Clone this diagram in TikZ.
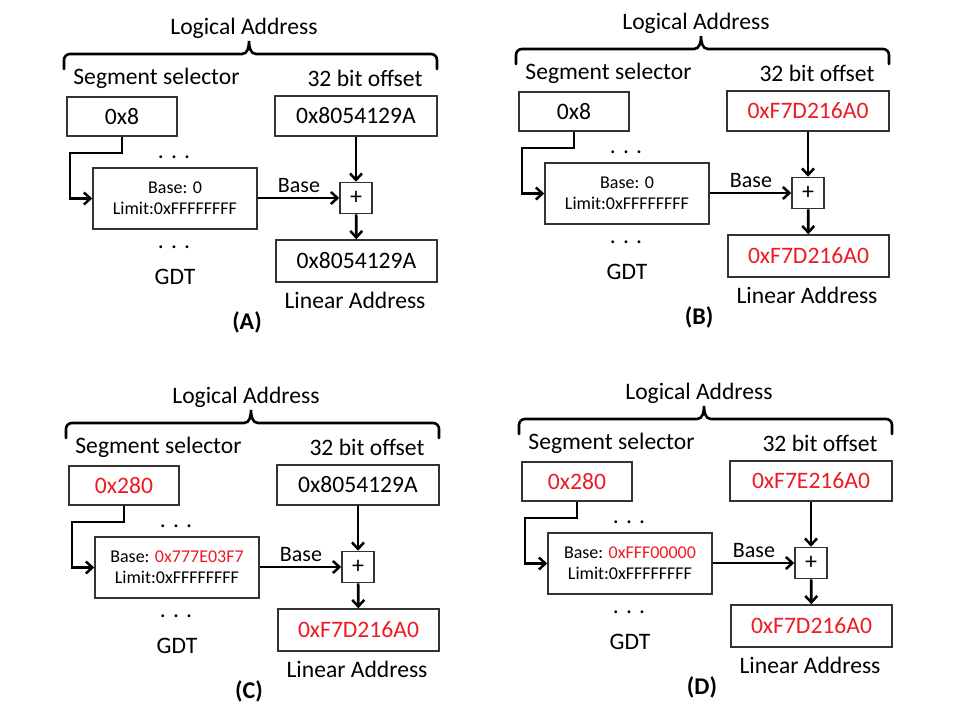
\documentclass[tikz,border=0pt]{standalone}
\usepackage{fontspec}
\setmainfont{Carlito}
\usetikzlibrary{arrows.meta}
\definecolor{myred}{RGB}{237,28,36}
\tikzset{
  lbl/.style={inner sep=0pt, font=\fontsize{23.6}{28}\selectfont},
  baselbl/.style={inner sep=0pt, font=\fontsize{22}{26}\selectfont},
  taglbl/.style={inner sep=0pt, font=\fontsize{24}{28}\selectfont\bfseries},
  valbox/.style={draw=black!80, line width=1.5pt, inner sep=0pt, font=\fontsize{23.6}{28}\selectfont},
  gdtbox/.style={draw=black!80, line width=1.5pt, inner sep=0pt, align=center, font=\fontsize{18}{21}\selectfont},
  plusbox/.style={draw=black!80, line width=1.5pt, inner sep=0pt, font=\fontsize{24}{26}\selectfont},
  conn/.style={line width=2.7pt, -{Straight Barb[length=6.5pt,width=12pt,line width=2.5pt]}},
  bracepath/.style={line width=2.6pt, line cap=round},
}
\newcommand\drawpanel[7]{%
\begin{scope}[shift={(#1,#2)}]
  \node[lbl] (la#3) at (244,28) {Logical Address};
  \draw[bracepath] (64,69) -- (64,60) to[out=90,in=180] (70,54) -- (242,54)
     to[out=0,in=-90] (249,41) to[out=-90,in=180] (256,54) -- (431,54)
     to[out=0,in=90] (437,60) -- (437,69);
  \node[lbl] (ss#3) at (156.5,78) {Segment selector};
  \node[lbl] (bo#3) at (365,78) {32 bit offset};
  \node[valbox, minimum width=110pt, minimum height=39pt] (sel#3) at (122,116.5) {#4};
  \node[valbox, minimum width=162pt, minimum height=40pt] (off#3) at (356,116) {#5};
  \node[lbl] (da#3) at (174,157) {. . .};
  \node[gdtbox, minimum width=164pt, minimum height=61pt] (gdt#3) at (175,198.5) {Base: #6\\Limit:0xFFFFFFFF};
  \node[plusbox, minimum width=32pt, minimum height=31pt] (plus#3) at (356,198) {+};
  \node[valbox, minimum width=161pt, minimum height=42pt] (lin#3) at (356.5,261) {#7};
  \node[lbl] (db#3) at (174,247) {. . .};
  \node[lbl] (gl#3) at (175,277) {GDT};
  \node[lbl] (ll#3) at (355,300) {Linear Address};
  \node[taglbl] (tag#3) at (247,322) {(#3)};
  \node[baselbl] (bl#3) at (299,186) {Base};
  \coordinate (ka#3) at (70,153);
  \coordinate (kb#3) at (70,198.5);
  \draw[conn] (sel#3.south) |- (ka#3) -- (kb#3) -- (gdt#3.west);
  \draw[conn] (gdt#3.east |- plus#3.west) -- (plus#3.west);
  \draw[conn] (off#3) -- (plus#3);
  \draw[conn] (plus#3) -- (lin#3);
\end{scope}}
\begin{document}
\begin{tikzpicture}[x=1pt,y=-1pt]
  \fill[white] (0,0) rectangle (960,720);
  \useasboundingbox (0,0) rectangle (960,720);
  \drawpanel{0}{0}{A}{0x8}{0x8054129A}{0}{0x8054129A}
  \drawpanel{452}{-5}{B}{0x8}{\textcolor{myred}{0xF7D216A0}}{0}{\textcolor{myred}{0xF7D216A0}}
  \drawpanel{2}{369}{C}{\textcolor{myred}{0x280}}{0x8054129A}{\textcolor{myred}{0x777E03F7}}{\textcolor{myred}{0xF7D216A0}}
  \drawpanel{455}{365}{D}{\textcolor{myred}{0x280}}{\textcolor{myred}{0xF7E216A0}}{\textcolor{myred}{0xFFF00000}}{\textcolor{myred}{0xF7D216A0}}
\end{tikzpicture}
\end{document}
